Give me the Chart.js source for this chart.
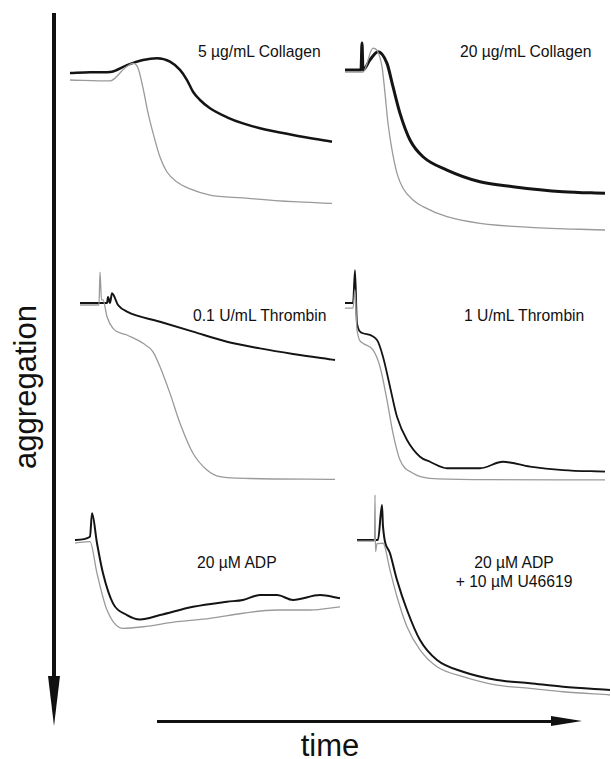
<!DOCTYPE html>
<html>
<head>
<meta charset="utf-8">
<script src="https://cdn.jsdelivr.net/npm/chart.js@4.4.1/dist/chart.umd.min.js"></script>
<style>
  body { margin: 0; background: #fff; }
  #fig { position: relative; width: 611px; height: 759px; overflow: hidden;
         font-family: "Liberation Sans", Arial, sans-serif; color: #111; }
  .panel { position: absolute; }
  .lbl { position: absolute; font-size: 15.7px; line-height: 19px; white-space: nowrap; }
  .shaft { position: absolute; background: #111; }
  .head { position: absolute; width: 0; height: 0; }
</style>
</head>
<body>
<div id="fig">
  <!-- vertical "aggregation" arrow -->
  <div class="shaft" style="left:52.3px; top:13px; width:3.4px; height:666px;"></div>
  <div class="head" style="left:48px; top:676px; border-left:6px solid transparent; border-right:6px solid transparent; border-top:50px solid #111;"></div>
  <div style="position:absolute; left:25px; top:387px; font-size:31px; line-height:31px; transform:translate(-50%,-50%) rotate(-90deg); white-space:nowrap;">aggregation</div>

  <!-- horizontal "time" arrow -->
  <div class="shaft" style="left:157px; top:719.7px; width:396px; height:3.4px;"></div>
  <div class="head" style="left:551px; top:716px; border-top:5.5px solid transparent; border-bottom:5.5px solid transparent; border-left:31px solid #111;"></div>
  <div style="position:absolute; left:330px; top:730px; font-size:31px; line-height:31px; transform:translateX(-50%);">time</div>

  <div class="lbl" style="left:198px; top:42px;">5 µg/mL Collagen</div>
  <div class="lbl" style="left:460px; top:42px;">20 µg/mL Collagen</div>
  <div class="lbl" style="left:193px; top:306px;">0.1 U/mL Thrombin</div>
  <div class="lbl" style="left:464px; top:306px;">1 U/mL Thrombin</div>
  <div class="lbl" style="left:197px; top:553px;">20 µM ADP</div>
  <div class="lbl" style="left:430px; top:553px; width:168px; text-align:center;">20 µM ADP<br>+ 10 µM U46619</div>
</div>

<script>
// time in s from start of trace, aggregation in % (grows downward)
// 5 µg/mL collagen
const colLoBlackT = [0, 20, 40, 57, 73, 87, 100, 110, 117, 123, 130, 140, 157, 173, 190, 223, 262];
const colLoBlackY = [0, -0.4, -0.6, -4.4, -7.2, -8.2, -6.3, -1.7, 3.9, 10.4, 15, 19.6, 24.6, 28, 30.7, 34.4, 38.2];
const colLoGrayT = [0, 40, 55, 63, 68, 73, 78, 83, 90, 97, 107, 120, 140, 173, 223, 262];
const colLoGrayY = [3.9, 4.4, -2.8, -5.4, -2.8, 8.3, 22.2, 33.3, 46.7, 55, 60.6, 64.4, 67.8, 69.4, 71.5, 72.4];

// 20 µg/mL collagen
const colHiBlackT = [0, 16, 17, 18, 25, 33, 42, 48, 55, 65, 78, 102, 135, 168, 218, 260];
const colHiBlackY = [0, 0, -15, 0, -5.6, -10.2, -3.7, 9.3, 24.1, 38.9, 48.2, 55.6, 62.1, 64.8, 67.6, 68.5];
const colHiGrayT = [0, 18, 28, 37, 40, 43, 47, 52, 58, 68, 78, 102, 135, 185, 260];
const colHiGrayY = [1.1, 1.1, -12.1, -1.9, 13, 29.6, 44.4, 57.4, 65.7, 72.2, 75.9, 81.5, 85.2, 87.4, 88.9];

// 0.1 U/mL thrombin
const thrLoBlackT = [0, 27, 28, 30, 32, 38, 47, 80, 113, 147, 180, 213, 255];
const thrLoBlackY = [0, 0, -3.3, 0, -5.4, 1.1, 4.8, 10.4, 15.9, 21.5, 25.2, 28.3, 31.7];
const thrLoGrayT = [0, 19, 20, 21.5, 23, 27, 33, 47, 63, 73, 80, 90, 100, 113, 127, 140, 170, 255];
const thrLoGrayY = [1.1, 1.1, -17.2, -1.7, -1.7, 7.6, 14.1, 17.8, 22.4, 27.1, 35.4, 50.2, 66.8, 83.5, 92.8, 96.5, 97.5, 98];

// 1 U/mL thrombin
const thrHiBlackT = [0, 8, 10, 12, 18, 32, 38, 45, 52, 62, 75, 85, 102, 135, 158, 185, 218, 260];
const thrHiBlackY = [0, 0, -18.3, 11.3, 16.8, 20.6, 29.8, 46.5, 63.2, 76.1, 85.4, 88.2, 91.8, 91.8, 88.2, 90.9, 92.8, 93.7];
const thrHiGrayT = [0, 8, 10, 12, 18, 28, 35, 42, 48, 55, 68, 85, 135, 260];
const thrHiGrayY = [2.8, 2.8, -7.2, 15, 22.4, 26.1, 35.4, 53.9, 72.4, 87.2, 94.6, 97.4, 98.1, 98.3];

// 20 µM ADP
const adpBlackT = [0, 15, 17, 22, 28, 38, 52, 65, 85, 118, 152, 168, 185, 202, 218, 245, 265];
const adpBlackY = [0, -1.8, -14.8, 1.8, 18.5, 35.2, 41.7, 44.1, 41.7, 37.1, 34.3, 33.3, 30.6, 30.6, 33.3, 30.6, 32.4];
const adpGrayT = [0, 15, 22, 32, 48, 68, 102, 135, 168, 202, 235, 265];
const adpGrayY = [1.7, 0.9, 18.5, 38.9, 49.1, 48.2, 45.4, 43.5, 40.7, 38.9, 38.9, 37.1];

// 20 µM ADP + 10 µM U46619
const adpUBlackT = [0, 21, 25, 26, 33, 40, 50, 63, 80, 106, 140, 173, 206, 253];
const adpUBlackY = [0, 0, -19.4, -7.4, 7.4, 22.2, 38.9, 55.6, 66.7, 73.2, 77.8, 79.6, 81.5, 83.3];
const adpUGrayT = [0, 17.5, 18, 18.5, 20, 26, 33, 40, 50, 63, 80, 106, 140, 173, 206, 253];
const adpUGrayY = [0.6, 0.6, -25, 6.5, 2, 1.8, 16.7, 31.5, 48.2, 61.1, 70.4, 75.9, 80.6, 82.4, 84.3, 86.1];

const PX_PER_PCT = 1.8;
const Y_MIN = -30, Y_MAX = 110;

function pts(t, y) {
  return t.map((v, i) => ({ x: v, y: y[i] }));
}

// left/base = where t=0, 0% sits on the page
function makePanel(left, base, width, blackT, blackY, grayT, grayY, blackW) {
  const fig = document.getElementById('fig');
  const h = (Y_MAX - Y_MIN) * PX_PER_PCT;
  const box = document.createElement('div');
  box.className = 'panel';
  box.style.left = left + 'px';
  box.style.top = (base + Y_MIN * PX_PER_PCT) + 'px';
  const cv = document.createElement('canvas');
  cv.width = width;
  cv.height = h;
  box.appendChild(cv);
  fig.appendChild(box);

  new Chart(cv, {
    type: 'line',
    data: {
      datasets: [
        { data: pts(grayT, grayY), borderColor: '#9a9a9a', borderWidth: 1.3 },
        { data: pts(blackT, blackY), borderColor: '#141414', borderWidth: blackW }
      ]
    },
    options: {
      responsive: false,
      animation: false,
      events: [],
      layout: { padding: 0 },
      elements: {
        point: { radius: 0 },
        line: { cubicInterpolationMode: 'monotone', fill: false }
      },
      scales: {
        x: { type: 'linear', display: false, min: 0, max: width },
        y: { display: false, reverse: true, min: Y_MIN, max: Y_MAX }
      },
      plugins: { legend: { display: false }, tooltip: { enabled: false } }
    }
  });
}

makePanel(70, 73, 265, colLoBlackT, colLoBlackY, colLoGrayT, colLoGrayY, 2.5);
makePanel(345, 70, 265, colHiBlackT, colHiBlackY, colHiGrayT, colHiGrayY, 3);
makePanel(80, 303, 258, thrLoBlackT, thrLoBlackY, thrLoGrayT, thrLoGrayY, 2);
makePanel(345, 303, 265, thrHiBlackT, thrHiBlackY, thrHiGrayT, thrHiGrayY, 1.8);
makePanel(75, 540, 272, adpBlackT, adpBlackY, adpGrayT, adpGrayY, 2);
makePanel(357, 540, 254, adpUBlackT, adpUBlackY, adpUGrayT, adpUGrayY, 2);
</script>
</body>
</html>
